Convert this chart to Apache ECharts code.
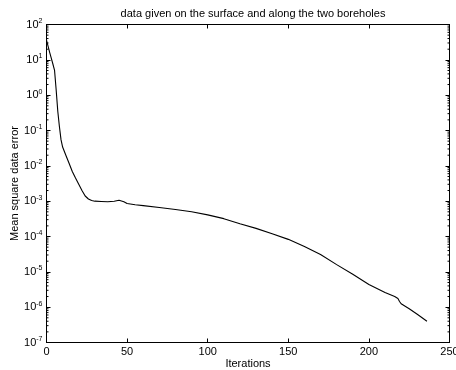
<!DOCTYPE html>
<html>
<head>
<meta charset="utf-8">
<script src="https://cdn.jsdelivr.net/npm/echarts@6/dist/echarts.min.js"></script>
<style>html,body{margin:0;padding:0;background:#fff;}#c{width:456px;height:370px;}</style>
</head>
<body>
<div id="c"></div>
<script>
var iterations = [0, 1, 2, 3, 4, 5, 6, 7, 8, 9, 10, 12, 14, 16, 18, 20, 22, 24, 26, 28, 30, 34, 38, 42, 45, 46, 48, 50, 55, 60, 70, 80, 90, 100, 110, 120, 130, 140, 150, 160, 170, 180, 190, 200, 210, 216, 218, 219, 220, 225, 230, 236];
var errors = [36, 24, 16, 11, 7.5, 5, 1.4, 0.35, 0.13, 0.055, 0.034, 0.02, 0.0118, 0.0069, 0.0045, 0.003, 0.002, 0.0014, 0.00115, 0.00104, 0.001, 0.00098, 0.00096, 0.00099, 0.00106, 0.00107, 0.00096, 0.00086, 0.00079, 0.00075, 0.00066, 0.00058, 0.0005, 0.00041, 0.00032, 0.00023, 0.00017, 0.00012, 0.000083, 0.000052, 0.000031, 0.000016, 0.0000085, 0.0000044, 0.0000026, 0.000002, 0.00000175, 0.00000145, 0.00000125, 0.0000009, 0.00000063, 0.0000004];
var xTicks = [0, 50, 100, 150, 200, 250];
var yExponents = [-7, -6, -5, -4, -3, -2, -1, 0, 1, 2];
var titleText = 'data given on the surface and along the two boreholes';
var xName = 'Iterations';
var yName = 'Mean square data error';

var lineData = iterations.map(function (x, i) { return [x, errors[i]]; });
var minorVals = [];
for (var e = -7; e < 2; e++) {
  for (var m = 2; m <= 9; m++) minorVals.push([0, m * Math.pow(10, e)]);
}
var FONT = 'Liberation Sans, Arial, Helvetica, sans-serif';
var chart = echarts.init(document.getElementById('c'));
var xBase = {
  type: 'value', min: 0, max: 250, interval: 50,
  axisLine: { show: true, onZero: false, lineStyle: { color: '#000', width: 1 } },
  axisTick: { show: true, inside: true, length: 4, lineStyle: { color: '#000' } },
  splitLine: { show: false }
};
var yBase = {
  type: 'log', logBase: 10, min: 1e-7, max: 1e2,
  axisLine: { show: true, onZero: false, lineStyle: { color: '#000', width: 1 } },
  axisTick: { show: true, inside: true, length: 4, lineStyle: { color: '#000' } },
  splitLine: { show: false }
};
chart.setOption({
  animation: false,
  backgroundColor: '#fff',
  title: {
    text: titleText, left: 248, top: 3, textAlign: 'center',
    textStyle: { fontFamily: FONT, fontSize: 11, fontWeight: 'normal', color: '#000' }
  },
  grid: { left: 46.5, right: 6.5, top: 24.5, bottom: 27.5, containLabel: false, outerBoundsMode: 'none' },
  xAxis: [
    Object.assign({}, xBase, {
      position: 'bottom',
      name: xName, nameLocation: 'middle', nameGap: 16, nameMoveOverlap: false,
      nameTextStyle: { fontFamily: FONT, fontSize: 11, color: '#000' },
      axisLabel: { fontFamily: FONT, fontSize: 11, color: '#000', margin: 4, showMaxLabel: true, showMinLabel: true,
        formatter: function (v) { return xTicks.indexOf(v) >= 0 ? String(v) : ''; } }
    }),
    Object.assign({}, xBase, { position: 'top', axisLabel: { show: false } })
  ],
  yAxis: [
    Object.assign({}, yBase, {
      position: 'left',
      name: yName, nameLocation: 'middle', nameGap: 26, nameMoveOverlap: false,
      nameTextStyle: { fontFamily: FONT, fontSize: 11, color: '#000' },
      axisLabel: {
        fontFamily: FONT, fontSize: 11, color: '#000', margin: 4, showMaxLabel: true, showMinLabel: true,
        formatter: function (v) {
          var ex = Math.round(Math.log10(v));
          if (yExponents.indexOf(ex) < 0) return '';
          return '{b|10}{s|' + ex + '}';
        },
        rich: {
          b: { fontFamily: FONT, fontSize: 11, color: '#000' },
          s: { fontFamily: FONT, fontSize: 7, color: '#000', padding: [0, 0, 7, 0] }
        }
      }
    }),
    Object.assign({}, yBase, { position: 'right', axisLabel: { show: false } })
  ],
  series: [
    {
      type: 'line', data: lineData, showSymbol: false, symbol: 'none',
      lineStyle: { color: '#000', width: 1.1 }, xAxisIndex: 0, yAxisIndex: 0
    },
    {
      type: 'custom', data: minorVals, xAxisIndex: 0, yAxisIndex: 0, clip: false, silent: true,
      renderItem: function (params, api) {
        var v = api.value(1);
        var pl = api.coord([0, v]);
        var pr = api.coord([250, v]);
        return {
          type: 'group',
          children: [
            { type: 'line', shape: { x1: pl[0], y1: pl[1], x2: pl[0] + 2, y2: pl[1] }, style: { stroke: '#000', lineWidth: 1 } },
            { type: 'line', shape: { x1: pr[0], y1: pr[1], x2: pr[0] - 2, y2: pr[1] }, style: { stroke: '#000', lineWidth: 1 } }
          ]
        };
      }
    }
  ]
});
</script>
</body>
</html>
